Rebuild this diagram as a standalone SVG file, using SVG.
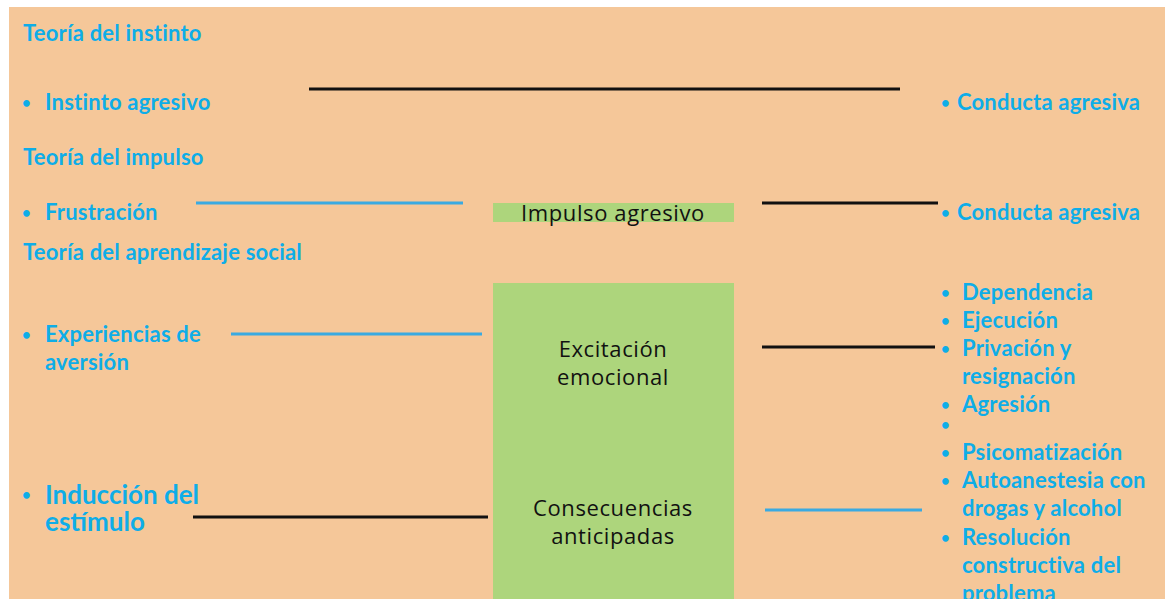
<svg xmlns="http://www.w3.org/2000/svg" width="1165" height="601" viewBox="0 0 1165 601">
<style>
.b{font-family:Lato,"Liberation Sans",sans-serif;font-weight:700;font-size:22px;letter-spacing:0.2px;fill:#0EADE8}
.big{font-size:26px;letter-spacing:0px}
.d{font-family:Lato,"Liberation Sans",sans-serif;font-weight:700;font-size:15px;fill:#0EADE8}
.k{font-family:"Open Sans","Liberation Sans",sans-serif;font-size:22px;letter-spacing:0.6px;fill:#111;text-anchor:middle}
.bl{stroke:#111;stroke-width:3}
.bu{stroke:#3AAAE1;stroke-width:3}
</style>
<defs><clipPath id="c"><rect x="0" y="0" width="1165" height="599"/></clipPath></defs>
<rect width="1165" height="601" fill="#fff"/>
<g clip-path="url(#c)">
<rect x="9" y="7" width="1156" height="592" fill="#F5C799"/>
<g id="impulso"><rect x="493" y="203" width="241" height="19" fill="#ADD57C"/><text class="k" x="613" y="221">Impulso agresivo</text></g>
<g id="excitacion"><rect x="493" y="283" width="241" height="316" fill="#ADD57C"/><text class="k" x="613" y="357">Excitación</text><text class="k" x="613" y="385">emocional</text>
<text class="k" x="613" y="516">Consecuencias</text><text class="k" x="613" y="544">anticipadas</text></g>
<g id="left">
<text class="b" x="23" y="41">Teoría del instinto</text>
<text class="d" x="22" y="108">•</text><text class="b" x="45" y="110">Instinto agresivo</text>
<text class="b" x="23" y="165">Teoría del impulso</text>
<text class="d" x="22" y="218">•</text><text class="b" x="45" y="220">Frustración</text>
<text class="b" x="23" y="260">Teoría del aprendizaje social</text>
<text class="d" x="22" y="340">•</text><text class="b" x="45" y="342">Experiencias de</text><text class="b" x="45" y="370">aversión</text>
<text class="d" x="22" y="500">•</text><text class="b big" x="45" y="504">Inducción del</text><text class="b big" x="45" y="531">estímulo</text>
</g>
<g id="right">
<text class="d" x="941" y="108">•</text><text class="b" x="957" y="110">Conducta agresiva</text>
<text class="d" x="941" y="218">•</text><text class="b" x="957" y="220">Conducta agresiva</text>
<text class="d" x="941" y="298">•</text><text class="b" x="962" y="300">Dependencia</text>
<text class="d" x="941" y="326">•</text><text class="b" x="962" y="328">Ejecución</text>
<text class="d" x="941" y="354">•</text><text class="b" x="962" y="356">Privación y</text>
<text class="b" x="962" y="384">resignación</text>
<text class="d" x="941" y="410">•</text><text class="b" x="962" y="412">Agresión</text>
<text class="d" x="941" y="430">•</text>
<text class="d" x="941" y="458">•</text><text class="b" x="962" y="460">Psicomatización</text>
<text class="d" x="941" y="486">•</text><text class="b" x="962" y="488">Autoanestesia con</text>
<text class="b" x="962" y="516">drogas y alcohol</text>
<text class="d" x="941" y="543">•</text><text class="b" x="962" y="545">Resolución</text>
<text class="b" x="962" y="573">constructiva del</text>
<text class="b" x="962" y="601">problema</text>
</g>
<g id="connectors">
<line class="bl" x1="309" y1="89" x2="900" y2="89"/>
<line class="bu" x1="196" y1="203" x2="463" y2="203"/>
<line class="bl" x1="762" y1="203" x2="938" y2="203"/>
<line class="bu" x1="231" y1="334" x2="482" y2="334"/>
<line class="bl" x1="762" y1="347" x2="935" y2="347"/>
<line class="bl" x1="193" y1="517" x2="488" y2="517"/>
<line class="bu" x1="765" y1="510" x2="922" y2="510"/>
</g>
</g>
</svg>
